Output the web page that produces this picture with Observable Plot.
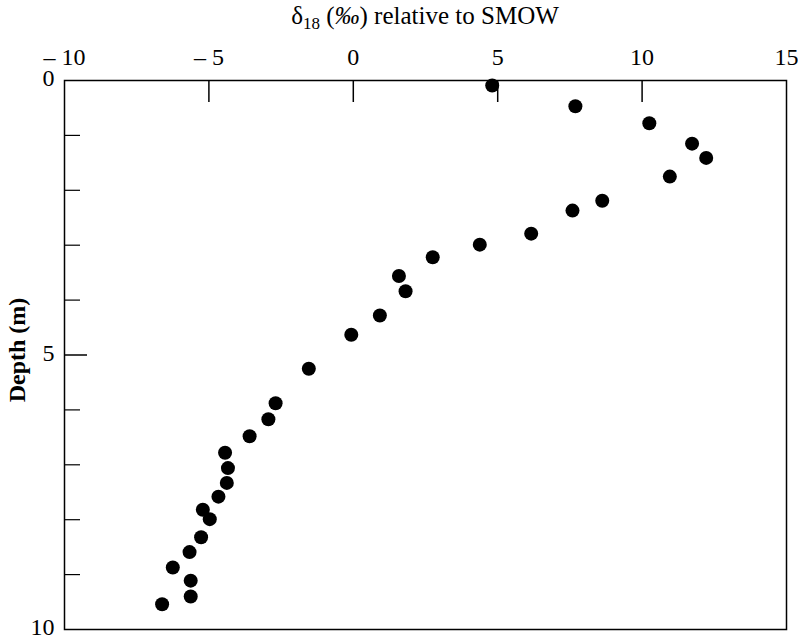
<!DOCTYPE html>
<html>
<head>
<meta charset="utf-8">
<script src="https://cdn.jsdelivr.net/npm/d3@7"></script>
<script src="https://cdn.jsdelivr.net/npm/@observablehq/plot@0.6"></script>
<style>
  html, body { margin: 0; padding: 0; background: #fff; }
  #wrap { position: relative; width: 798px; height: 639px; font-family: "Liberation Serif", "DejaVu Serif", serif; }
  #title { position: absolute; left: 64px; width: 722px; top: 3px; text-align: center; font-size: 25px; line-height: 25px; color: #000; }
  #title sub { font-size: 17px; vertical-align: -5px; line-height: 0; }
</style>
</head>
<body>
<div id="wrap">
  <div id="title">δ<sub>18</sub> (<i>‰</i>) relative to SMOW</div>
</div>
<script>
// Oxygen isotope ratio (δ18, ‰ relative to SMOW) vs depth (m)
const delta18 = [4.81, 7.69, 10.25, 11.73, 12.22, 10.96, 8.62, 7.59, 6.16, 4.38,
                 2.75, 1.58, 1.81, 0.92, -0.07, -1.54, -2.69, -2.94, -3.59, -4.44,
                 -4.34, -4.38, -4.67, -5.21, -4.97, -5.27, -5.67, -6.25, -5.63, -5.63, -6.62];
const depth   = [0.09, 0.47, 0.78, 1.15, 1.41, 1.75, 2.19, 2.37, 2.79, 2.99,
                 3.22, 3.56, 3.84, 4.28, 4.63, 5.25, 5.88, 6.17, 6.48, 6.78,
                 7.06, 7.33, 7.58, 7.82, 7.99, 8.32, 8.59, 8.87, 9.11, 9.40, 9.54];

const xTickLabels = [-10, -5, 0, 5, 10, 15];
const xInnerTicks = [-5, 0, 5, 10];
const yTickLabels = [0, 5, 10];
const yMinorTicks = [1, 2, 3, 4, 6, 7, 8, 9];
const yMajorTicks = [5];
const yTitle = ["Depth (m)"];

const points = delta18.map((v, i) => ({delta: v, depth: depth[i]}));

const W = 798, H = 639;
const mL = 64, mR = 12, mT = 80, mB = 10;
const plotW = W - mL - mR, plotH = H - mT - mB;

const fmtX = d => d < 0 ? "\u2013 " + Math.abs(d) : String(d);

const chart = Plot.plot({
  width: W,
  height: H,
  marginLeft: mL,
  marginRight: mR,
  marginTop: mT,
  marginBottom: mB,
  style: {fontFamily: "'Liberation Serif', 'DejaVu Serif', serif", fontSize: "24px", color: "#000", background: "transparent"},
  x: {domain: [-10, 15]},
  y: {domain: [0, 10], reverse: true},
  marks: [
    Plot.frame({stroke: "#000", strokeWidth: 1.5}),
    Plot.axisX(xTickLabels, {anchor: "top", tickSize: 0, tickPadding: 16, tickFormat: fmtX, label: null, fontSize: 24}),
    Plot.axisY(yTickLabels, {anchor: "left", tickSize: 0, tickPadding: 10, tickFormat: d => String(d), label: null, fontSize: 24, dy: -2}),
    Plot.text(yTitle, {text: d => d, frameAnchor: "left", rotate: -90, dx: -47, dy: -5, fontSize: 24, fontWeight: "bold", fill: "#000", textAnchor: "middle", lineAnchor: "middle"}),
    Plot.tickX(xInnerTicks, {x: d => d, stroke: "#000", strokeWidth: 1.5, insetBottom: plotH - 22}),
    Plot.tickY(yMinorTicks, {y: d => d, stroke: "#000", strokeWidth: 1.2, insetRight: plotW - 16}),
    Plot.tickY(yMajorTicks, {y: d => d, stroke: "#000", strokeWidth: 1.5, insetRight: plotW - 23}),
    Plot.dot(points, {x: "delta", y: "depth", r: 7, fill: "#000", stroke: "none"})
  ]
});
document.getElementById("wrap").prepend(chart);
</script>
</body>
</html>
